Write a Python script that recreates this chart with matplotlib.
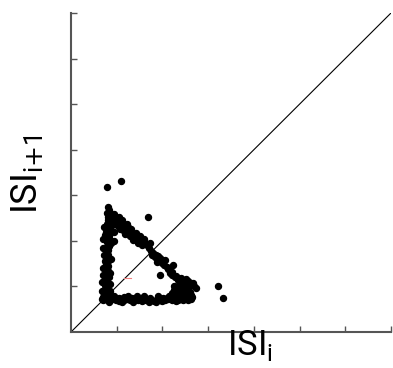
import matplotlib
matplotlib.use("Agg")
import numpy as np
import matplotlib.pyplot as plt

# ISI_i vs ISI_{i+1} return map
left_x = [0.80, 0.83, 0.79, 0.85, 0.82, 0.88, 0.80, 0.84, 0.78, 0.83, 0.86, 0.80, 0.76, 0.82, 0.75, 0.84,
          0.79, 0.86, 0.78, 0.80, 0.84, 0.77, 0.81, 0.79, 0.82, 0.78, 0.80, 0.77, 0.81, 0.78, 0.80, 0.76,
          0.79, 0.75, 0.78, 0.74, 0.77, 0.73, 0.76, 0.72, 0.75, 0.71, 0.74, 0.70, 0.78, 0.82,
          0.70, 0.88, 0.72, 0.87, 0.70, 0.86, 0.68, 0.85, 0.67, 0.86, 0.68, 0.88, 0.73, 0.90, 0.74, 0.84,
          0.70, 0.90, 0.93, 0.71]
left_y = [2.74, 2.68, 2.62, 2.58, 2.52, 2.47, 2.45, 2.40, 2.36, 2.32, 2.28, 2.25, 2.20, 2.17, 2.12, 2.10,
          2.05, 2.02, 1.98, 1.93, 1.88, 1.84, 1.80, 1.74, 1.68, 1.62, 1.56, 1.50, 1.45, 1.39, 1.33, 1.27,
          1.22, 1.16, 1.10, 1.04, 0.98, 0.93, 0.88, 0.84, 0.80, 0.76, 0.72, 0.70, 0.82, 0.75,
          2.05, 1.95, 1.70, 1.60, 1.40, 1.30, 1.10, 1.05, 0.90, 0.90, 0.72, 0.72, 2.30, 2.35, 1.55, 1.20,
          1.25, 0.80, 2.00, 1.85]

upper_x = [0.86, 0.92, 0.97, 1.02, 1.07, 1.00, 1.10, 1.14, 1.20, 1.16, 1.25, 1.30, 1.34, 1.40, 1.45, 1.50,
           1.56, 1.62, 1.66, 1.28, 1.05, 0.95,
           0.95, 1.05, 1.12, 1.22, 1.32, 1.42, 1.52, 1.60, 0.98, 1.08, 1.18, 1.36, 1.46, 1.55, 1.72, 1.25]
upper_y = [2.56, 2.50, 2.46, 2.43, 2.45, 2.35, 2.38, 2.32, 2.28, 2.22, 2.24, 2.18, 2.12, 2.08, 2.05, 2.00,
           1.98, 1.96, 1.92, 2.10, 2.30, 2.20,
           2.58, 2.52, 2.45, 2.36, 2.26, 2.18, 2.10, 2.04, 2.38, 2.25, 2.15, 2.02, 1.95, 1.90, 1.95, 2.30]

lower_x = [1.70, 1.75, 1.80, 1.86, 1.90, 1.95, 2.00, 1.88, 2.06, 2.23, 2.09, 2.12, 1.95, 2.17, 2.22, 2.28,
           2.35, 2.42, 2.48, 2.55, 2.62, 2.67, 2.74, 2.58, 2.50,
           1.78, 1.84, 1.92, 1.98, 2.04, 2.15, 2.20, 2.30, 2.40, 2.52, 2.60, 2.70]
lower_y = [1.85, 1.78, 1.74, 1.70, 1.66, 1.62, 1.58, 1.54, 1.58, 1.47, 1.43, 1.38, 1.25, 1.30, 1.24, 1.20,
           1.15, 1.12, 1.10, 1.12, 1.08, 1.07, 0.96, 1.00, 1.02,
           1.70, 1.64, 1.58, 1.52, 1.48, 1.40, 1.32, 1.22, 1.18, 1.16, 1.04, 1.02]

blob_x = [2.15, 2.20, 2.25, 2.30, 2.35, 2.28, 2.34, 2.40, 2.45, 2.38, 2.44, 2.50, 2.55, 2.60, 2.52, 2.58,
          2.64, 2.22, 2.30, 2.46, 2.18, 2.26, 2.36, 2.42, 2.32, 2.48, 2.56, 2.62,
          2.20, 2.27, 2.33, 2.40, 2.47, 2.53, 2.35, 2.42, 2.50, 2.57, 2.12, 2.25, 2.38, 2.62]
blob_y = [0.80, 0.86, 0.92, 0.98, 1.02, 0.78, 0.84, 0.90, 0.95, 0.72, 0.78, 0.85, 0.92, 0.88, 0.74, 0.80,
          0.76, 0.70, 0.68, 0.70, 0.74, 0.84, 0.94, 1.00, 0.90, 0.80, 0.70, 0.72,
          0.78, 0.90, 0.78, 0.82, 0.88, 0.96, 0.70, 0.95, 0.76, 0.86, 0.72, 1.00, 1.06, 0.82]

bottom_x = [0.80, 0.86, 0.92, 0.98, 1.04, 1.10, 1.16, 1.22, 1.28, 1.34, 1.40, 1.46, 1.52, 1.58, 1.64, 1.70,
            1.76, 1.82, 1.88, 1.94, 2.00, 2.06, 2.10, 1.25, 1.60, 0.90, 1.05, 1.85,
            0.95, 1.15, 1.35, 1.45, 1.55, 1.72, 1.90, 2.02, 1.12, 0.84]
bottom_y = [0.70, 0.74, 0.72, 0.70, 0.74, 0.72, 0.70, 0.73, 0.71, 0.74, 0.72, 0.70, 0.73, 0.74, 0.70, 0.66,
            0.70, 0.68, 0.72, 0.70, 0.67, 0.70, 0.74, 0.78, 0.78, 0.80, 0.68, 0.65,
            0.78, 0.77, 0.66, 0.78, 0.67, 0.74, 0.78, 0.75, 0.66, 0.66]

outlier_x = [0.79, 1.09, 1.68, 3.22, 3.33]
outlier_y = [3.18, 3.31, 2.52, 1.01, 0.75]

isi_i = left_x + upper_x + lower_x + blob_x + bottom_x + outlier_x
isi_next = left_y + upper_y + lower_y + blob_y + bottom_y + outlier_y

lim = 7
ticks = [1, 2, 3, 4, 5, 6, 7]

fig = plt.figure(figsize=(3.93, 3.68), dpi=100)
ax = fig.add_axes([71/393, 36/368, 320/393, 319/368])

ax.plot([0, lim], [0, lim], color="black", lw=0.8)
ax.plot([1.15, 1.32], [1.18, 1.18], color="#f08080", lw=0.8)
ax.plot(isi_i, isi_next, "o", color="black", ms=4.3, mec="black")

ax.set_xlim(0, lim)
ax.set_ylim(0, lim)
ax.set_xticks(ticks)
ax.set_yticks(ticks)
ax.set_xticklabels([])
ax.set_yticklabels([])
ax.tick_params(direction="in", length=4, width=1, color="#555555")
for s in ["top", "right"]:
    ax.spines[s].set_visible(False)
for s in ["left", "bottom"]:
    ax.spines[s].set_color("#555555")
    ax.spines[s].set_linewidth(1.5)

lab = dict(family=["Roboto", "DejaVu Sans"], fontsize=26)
ax.text(0.56, 0.012, r"ISI$_\mathregular{i}$", transform=ax.transAxes, ha="center", va="top",
        family=["Roboto", "DejaVu Sans"], fontsize=25)
ax.text(-0.1375, 0.495, r"ISI$_{\mathregular{i}{+}\mathregular{1}}$", transform=ax.transAxes,
        ha="center", va="center", rotation=90, **lab)

fig.savefig("out.png", dpi=100)
